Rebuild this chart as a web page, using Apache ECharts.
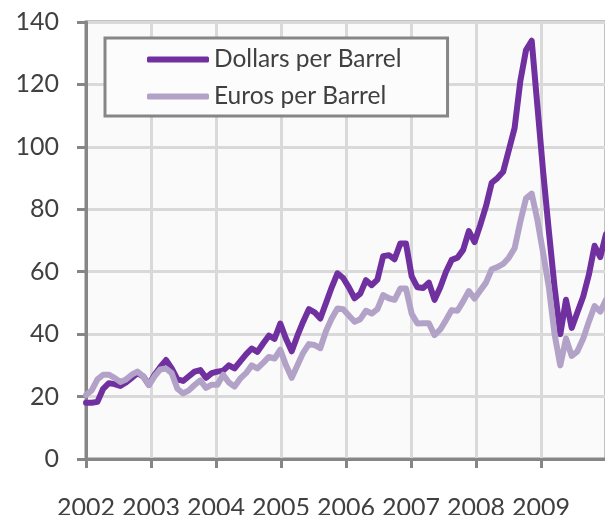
<!DOCTYPE html>
<html>
<head>
    <meta charset="utf-8">
    <title>Oil price</title>
    <script src="https://cdn.jsdelivr.net/npm/echarts@6/dist/echarts.min.js"></script>
    <style>
        html, body { margin: 0; padding: 0; background: #fff; }
    </style>
</head>
<body>
<div id="main" style="width: 605px;height:515px;"></div>
<script type="text/javascript">
    // years shown under the axis
    var years = ['2002', '2003', '2004', '2005', '2006', '2007', '2008', '2009'];
    var lastMonth = 8; // data runs Jan 2002 .. Aug 2009

    // monthly values
    var dollars = [
        18, 18, 18.3, 22.5, 24.3, 24, 23.4, 24.5, 26, 27.5, 26.5, 23.8,
        27, 29.5, 31.7, 29, 25.5, 25, 26.5, 28, 28.5, 26, 27.5, 28,
        28.3, 30, 29, 31.3, 33.5, 35.4, 34.3, 37, 39.5, 38.5, 43.4, 38.5,
        34.5, 39.5, 44, 48, 47, 45, 50, 55, 59.5, 58, 55, 51.5,
        53, 57.3, 55.7, 57.5, 65, 65.3, 64, 69, 69, 58.5, 55, 54.8,
        56.5, 51, 55, 60, 63.8, 64.5, 67, 73, 69.5, 75, 81, 88.5,
        90, 92, 99, 106, 121, 131, 134, 113, 92, 73, 55, 40,
        51, 42, 47, 52, 59, 68.3, 64.7, 72
    ];
    var euros = [
        20.5, 22, 25.5, 27, 27, 26, 24.7, 25.5, 27, 28, 26.5, 23.7,
        26.5, 28.7, 29, 27.5, 22.5, 21, 22, 23.7, 25.2, 22.8, 23.8, 23.8,
        27, 24.5, 23.2, 25.8, 27.5, 30, 29, 30.8, 32.7, 32.2, 35, 30,
        26, 30, 34, 36.8, 36.5, 35.5, 41, 45, 48.2, 48, 46, 44,
        44.8, 47.5, 46.6, 48, 52.5, 51.5, 51, 54.6, 54.6, 46.5, 43.4, 43.5,
        43.5, 39.7, 41.5, 44.5, 47.7, 47.5, 50.5, 53.8, 51.4, 54, 56.5, 60.8,
        61.5, 62.5, 64.5, 67.5, 76, 83.5, 85, 76.5, 66, 55, 40, 30,
        38.6, 33, 34.5, 38.5, 44, 49, 47.2, 51
    ];

    // month categories
    var months = [];
    for (var y = 0; y < years.length; y++) {
        for (var m = 1; m <= 12; m++) {
            if (y == years.length - 1 && m > lastMonth) break;
            months.push(years[y] + '-' + (m < 10 ? '0' + m : m));
        }
    }

    var axisGray = '#868686';
    var gridGray = '#d9d9d9';
    var textGray = '#404040';
    var font = 'Lato';

    var myChart = echarts.init(document.getElementById('main'));

    var option = {
        animation: false,
        grid: {
            left: 86, top: 22, width: 520, height: 437,
            containLabel: false,
            outerBoundsMode: 'none',
            show: true,
            backgroundColor: '#fafafa',
            borderColor: axisGray,
            borderWidth: 3
        },
        legend: {
            orient: 'vertical',
            left: 105, top: 38,
            padding: [8, 46, 6, 42],
            itemGap: 10,
            itemWidth: 62,
            itemHeight: 6,
            icon: 'roundRect',
            backgroundColor: '#fcfcfc',
            borderColor: axisGray,
            borderWidth: 3,
            textStyle: { color: textGray, fontFamily: font, fontSize: 24.5, lineHeight: 27 },
            data: ['Dollars per Barrel', 'Euros per Barrel']
        },
        xAxis: [{
            type: 'category',
            data: months,
            boundaryGap: false,
            show: false
        }, {
            type: 'value',
            min: 0, max: 8, interval: 1,
            position: 'bottom',
            axisLine: { show: true, lineStyle: { color: axisGray, width: 3 } },
            axisTick: { show: true, inside: false, length: 9, lineStyle: { color: axisGray, width: 3 } },
            axisLabel: {
                color: textGray, fontFamily: font, fontSize: 25, margin: 36,
                formatter: function (v) { return years[v] || ''; }
            },
            splitLine: { show: true, lineStyle: { color: gridGray, width: 3 } }
        }],
        yAxis: {
            type: 'value',
            min: 0, max: 140, interval: 20,
            axisLine: { show: true, lineStyle: { color: axisGray, width: 3 } },
            axisTick: { show: true, inside: false, length: 9, lineStyle: { color: axisGray, width: 3 } },
            axisLabel: { color: textGray, fontFamily: font, fontSize: 25, margin: 27 },
            splitLine: { show: true, lineStyle: { color: gridGray, width: 3 } }
        },
        series: [{
            name: 'Dollars per Barrel',
            type: 'line',
            xAxisIndex: 0,
            data: dollars,
            showSymbol: false,
            color: '#7030a0',
            lineStyle: { width: 6, join: 'round', cap: 'round' }
        }, {
            name: 'Euros per Barrel',
            type: 'line',
            xAxisIndex: 0,
            data: euros,
            showSymbol: false,
            color: '#b3a2c7',
            lineStyle: { width: 6, join: 'round', cap: 'round' }
        }]
    };

    myChart.setOption(option);
</script>
</body>
</html>
